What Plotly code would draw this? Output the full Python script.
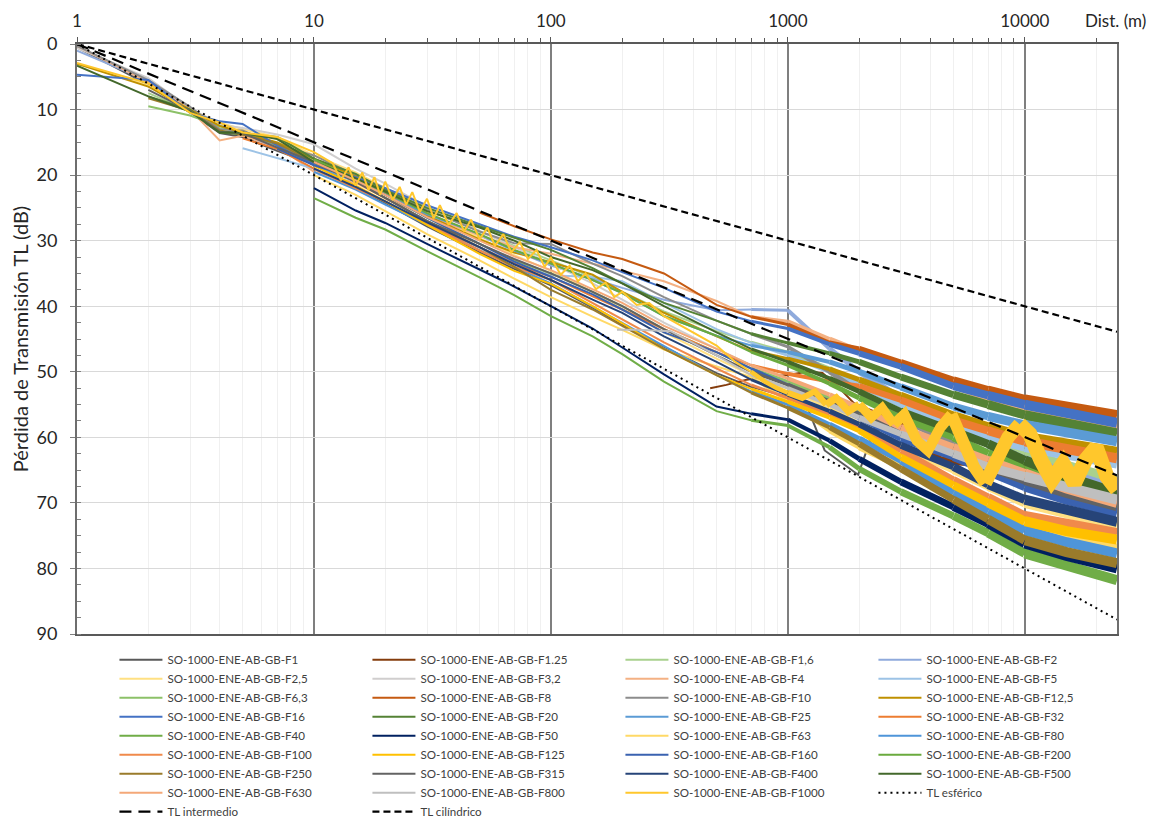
import plotly.graph_objects as go

N = None

# ---------------- data ----------------
grid_d = [1, 2, 3, 4, 5, 7, 10, 15, 20, 30, 50, 70, 100, 150, 200, 300, 500, 700,
          1000, 1500, 2000, 3000, 5000, 7000, 10000, 15000, 24500]

d_f1 = [1, 2, 3, 4, 5, 7, 10, 15, 20, 30, 50, 70, 100, 150, 200, 300, 500, 700, 1000,
        1100, 1220, 1430, 1980, 2290, 2600, 3000, 5000, 7000, 10000, 15000, 24500]
tl_f1 = [0.5, 6.2, 10.4, 13.6, 14.2, 16.3, 18.3, 21.8, 24.3, 27.8, 31.8, 34.3, 36.8, 40.2,
         42.8, 46.2, 50.2, 52.3, 53.8, 54.3, 55.8, 62.0, 65.7, 59.2, 57.8, 59.0, 62.5, 64.8,
         67.3, 69.2, 71.0]

d_f1_25 = [470, 550, 670, 800, 1000, 1200, 1400, 1650, 1900, 2300, 3000, 4400, 7000, 10000,
           15000, 23000, 24500]
tl_f1_25 = [52.5, 52.0, 51.2, 50.8, 50.5, 50.0, 50.2, 52.5, 54.8, 56.0, 58.0, 63.5, 64.0,
            65.0, 66.0, 67.0, 67.5]

tl_f1_6 = [N, 7.5, 10.2, 12.8, 13.6, 15.2, 17.8, 20.5, 22.3, 25.2, 28.6, 30.8, 33.0, 35.6,
           37.8, 40.8, 43.8, 45.5, 47.0, 49.5, 52.0, 55.0, 58.5, 60.5, 62.5, 64.3, 66.5]
tl_f2 = [1.0, 5.6, 9.9, 12.4, 13.9, 15.8, 18.0, 20.8, 22.8, 25.8, 29.3, 31.5, 33.8, 35.8,
         37.2, 39.0, 40.6, 40.5, 40.6, 46.5, 50.0, 54.0, 58.0, 61.0, 63.5, 65.5, 68.0]
tl_f2_5 = [3.0, 6.3, 10.0, 12.0, 13.0, 14.2, 17.0, 19.6, 22.0, 25.6, 29.6, 32.2, 34.6, 37.8,
           40.4, 44.0, 48.0, 50.5, 52.5, 55.5, 58.0, 61.5, 65.0, 67.5, 70.0, 71.5, 73.5]
tl_f3_2 = [0.6, 5.2, 9.8, 12.3, 12.8, 13.8, 15.3, 19.0, 21.3, 24.8, 28.5, 31.0, 33.5, 36.5,
           39.0, 42.5, 46.5, 49.0, 51.5, 54.0, 56.5, 59.5, 62.5, 64.5, 66.5, 67.5, 68.5]
tl_f4 = [0.3, 5.8, 10.0, 14.7, 14.0, 15.6, 19.5, 21.2, 23.5, 26.2, 29.2, 31.0, 32.0, 33.5,
         34.6, 36.2, 39.2, 41.6, 42.3, 45.0, 46.8, 48.8, 52.0, 54.0, 55.6, 57.0, 58.5]
tl_f5 = [N, N, N, N, 15.9, 17.4, 19.0, 21.8, 24.0, 27.4, 31.0, 33.4, 35.3, 35.5, 36.2, 39.5,
         43.5, 45.6, 47.5, 50.0, 52.0, 55.0, 58.5, 60.0, 61.5, 62.8, 64.0]
tl_f6_3 = [N, 9.5, 10.9, 12.5, 13.5, 15.5, 18.5, 21.0, 23.0, 26.5, 30.5, 33.0, 35.0, 37.8,
           40.0, 43.5, 47.0, 49.5, 51.5, 54.0, 56.0, 59.0, 62.5, 65.0, 67.0, 69.0, 71.0]
tl_f8 = [N, N, N, N, N, N, N, N, N, N, 25.7, 27.8, 29.8, 31.8, 32.8, 35.0, 39.8, 41.6, 42.8,
         45.6, 46.5, 48.6, 51.3, 52.8, 54.2, 55.4, 56.6]
tl_f10 = [0.3, 5.5, 9.6, 13.0, 13.2, 15.4, 17.0, 20.0, 22.0, 25.3, 28.6, 30.4, 30.5, 33.5,
          35.4, 38.6, 42.2, 44.2, 46.2, 50.0, 53.0, 57.0, 61.0, 63.5, 66.0, 67.8, 69.5]
tl_f12_5 = [3.0, 6.5, 10.0, 12.5, 13.5, 15.0, 17.5, 20.2, 22.6, 26.2, 29.8, 31.8, 33.3, 35.2,
            37.8, 41.0, 44.6, 46.8, 48.0, 49.6, 51.2, 53.6, 56.6, 58.3, 59.9, 61.0, 62.2]
tl_f16 = [4.7, 5.5, 10.5, 11.8, 12.2, 15.5, 18.3, 20.3, 22.0, 24.6, 27.5, 29.4, 31.0, 33.0,
          34.8, 37.2, 40.8, 42.3, 43.4, 45.8, 47.2, 49.2, 52.2, 53.6, 55.0, 56.3, 57.8]
tl_f20 = [N, 8.0, 10.0, 13.5, 13.8, 14.2, 17.5, 19.8, 22.3, 25.0, 27.8, 29.6, 31.4, 34.2,
          36.5, 39.5, 42.2, 44.2, 45.6, 47.2, 48.5, 50.8, 53.5, 55.0, 56.6, 57.9, 59.4]
tl_f25 = [N, N, N, N, N, N, 18.5, 21.0, 23.0, 26.0, 29.0, 31.5, 33.5, 36.0, 38.0, 41.5,
          44.5, 46.0, 47.0, 48.5, 50.0, 52.3, 55.3, 56.8, 58.1, 59.3, 60.6]
tl_f32 = [N, N, N, N, 14.4, 16.0, 19.0, 22.0, 24.0, 27.5, 31.0, 33.5, 35.5, 38.5, 40.5, 43.5,
          47.0, 49.0, 50.3, 51.5, 52.2, 54.3, 57.4, 59.0, 60.6, 61.8, 63.2]
tl_f40 = [N, N, N, N, N, N, 23.5, 26.5, 28.3, 31.6, 35.6, 38.3, 41.5, 44.6, 47.3, 51.5, 56.0,
          57.4, 58.2, 61.5, 64.8, 68.3, 72.0, 74.6, 77.7, 79.6, 81.8]
tl_f50 = [N, N, N, N, N, N, 22.0, 25.4, 27.3, 30.5, 34.4, 37.0, 40.0, 43.4, 46.3, 50.4, 55.3,
          56.4, 57.3, 60.5, 63.3, 66.8, 70.6, 73.2, 76.2, 78.1, 80.0]
tl_f63 = [N, N, N, N, N, N, 20.0, 23.0, 25.5, 29.0, 33.0, 35.8, 38.6, 41.6, 43.6, 46.6, 49.2,
          50.8, 54.5, 59.0, 61.5, 64.5, 68.2, 70.8, 73.2, 75.2, 77.0]
tl_f80 = [N, N, N, N, N, N, 19.5, 22.2, 24.5, 27.6, 31.5, 34.0, 36.5, 40.0, 42.5, 46.0, 50.5,
          53.0, 55.0, 58.0, 60.2, 63.6, 68.5, 71.3, 74.2, 76.0, 77.7]
tl_f100 = [N, N, N, N, N, N, 19.0, 22.0, 24.0, 27.5, 31.5, 34.0, 36.0, 39.5, 42.0, 45.5, 49.5,
           52.0, 54.0, 56.5, 58.5, 62.0, 66.5, 69.2, 72.0, 73.3, 74.6]
tl_f125 = [N, N, N, N, N, N, 18.6, 21.6, 24.0, 27.6, 32.0, 34.6, 36.6, 40.0, 42.6, 46.5, 50.5,
           52.6, 54.6, 57.0, 59.0, 63.0, 67.3, 70.0, 72.8, 74.3, 75.6]
tl_f160 = [N, N, N, N, N, 16.0, 18.5, 20.5, 23.0, 26.5, 30.5, 33.2, 35.5, 38.2, 40.5, 44.0,
           47.0, 49.5, 52.0, 54.8, 57.0, 60.2, 63.0, 65.2, 67.5, 69.5, 71.5]
tl_f200 = [N, N, N, N, N, N, 17.6, 20.6, 22.6, 25.8, 29.0, 31.4, 33.5, 36.0, 38.0, 41.5, 44.5,
           47.0, 49.0, 51.8, 54.0, 57.0, 60.0, 62.5, 64.5, 66.8, 69.0]
tl_f250 = [N, 8.3, 10.2, 13.2, 13.8, 15.2, 18.0, 21.0, 23.5, 27.0, 31.0, 34.0, 37.5, 40.5,
           43.0, 46.5, 50.5, 53.2, 55.5, 58.5, 61.0, 64.8, 69.5, 72.5, 75.7, 77.5, 79.2]
tl_f315 = [N, 7.0, 10.2, 13.4, 13.6, 15.8, 18.0, 21.0, 23.5, 27.0, 30.5, 32.8, 35.0, 37.8,
           40.0, 43.5, 47.5, 50.0, 52.0, 54.5, 56.5, 59.0, 62.0, 64.5, 66.5, 68.5, 70.5]
tl_f400 = [N, N, N, N, N, N, 19.0, 21.8, 24.0, 27.2, 31.0, 33.6, 36.0, 39.0, 41.0, 44.6, 48.5,
           51.2, 53.5, 56.0, 58.0, 61.2, 64.5, 67.2, 69.5, 71.2, 72.9]
tl_f500 = [3.3, 8.0, 10.3, 13.5, 13.5, 14.5, 18.0, 20.5, 22.5, 25.5, 28.0, 30.0, 32.5, 34.5,
           36.5, 40.0, 44.0, 46.5, 48.5, 51.0, 53.0, 56.0, 59.0, 61.0, 63.5, 66.0, 68.5]
tl_f630 = [N, N, N, N, N, N, 18.0, 20.8, 23.0, 26.4, 30.0, 32.4, 34.5, 37.4, 39.5, 43.0, 46.5,
           49.0, 51.0, 53.5, 55.5, 58.5, 61.5, 63.5, 65.5, 67.8, 70.0]

d_f800 = [190, 230, 320, 500, 700, 1000, 1500, 2000, 3000, 5000, 7000, 10000, 15000, 24500]
tl_f800 = [43.6, 43.6, 43.8, 47.5, 50.5, 52.5, 55.0, 57.0, 59.5, 62.5, 64.5, 66.0, 67.5, 69.5]

d_f1000 = [1, 2, 3, 4, 5, 7, 10, 12, 13, 14, 15, 16, 17, 18, 19, 20, 21.5, 23, 24.5, 26, 28,
           30, 32, 34, 37, 40, 43, 46, 50, 54, 58, 63, 68, 74, 80, 87, 94, 100, 110, 120, 130,
           140, 155, 170, 185, 200, 230, 260, 300, 400, 500, 600, 700, 800, 900, 1000, 1150,
           1300, 1450, 1600, 1800, 2000, 2250, 2500, 2800, 3100, 3500, 3900, 4400, 4900, 5500,
           6100, 6800, 7600, 8500, 9500, 10500, 11700, 13000, 14500, 16200, 18000, 20000,
           22200, 24500]
tl_f1000 = [2.9, 6.0, 10.5, 12.0, 13.5, 14.2, 16.5, 18.2, 20.8, 18.8, 21.6, 19.6, 22.3, 20.3,
            23.0, 21.0, 23.8, 21.8, 24.5, 22.6, 25.6, 23.6, 26.6, 24.6, 27.6, 25.8, 28.6, 26.8,
            29.8, 28.0, 30.8, 29.0, 31.8, 30.2, 32.8, 31.4, 34.0, 32.6, 35.2, 33.8, 36.2, 35.0,
            37.4, 36.4, 38.6, 37.8, 39.8, 39.5, 41.5, 44.0, 46.0, 48.5, 50.0, 51.5, 52.5, 53.2,
            54.0, 53.0, 55.0, 54.0, 56.0, 55.0, 57.0, 55.5, 58.0, 56.5, 60.5, 62.0, 58.5, 56.5,
            61.0, 64.5, 67.0, 63.5, 60.0, 58.0, 59.5, 63.5, 66.5, 64.0, 67.0, 63.5, 61.5, 66.0,
            68.0]

d_ref = [1, 24500]
tl_esferico = [0, 87.8]
tl_intermedio = [0, 65.8]
tl_cilindrico = [0, 43.9]

series = [
    ("SO-1000-ENE-AB-GB-F1", d_f1, tl_f1),
    ("SO-1000-ENE-AB-GB-F1.25", d_f1_25, tl_f1_25),
    ("SO-1000-ENE-AB-GB-F1,6", grid_d, tl_f1_6),
    ("SO-1000-ENE-AB-GB-F2", grid_d, tl_f2),
    ("SO-1000-ENE-AB-GB-F2,5", grid_d, tl_f2_5),
    ("SO-1000-ENE-AB-GB-F3,2", grid_d, tl_f3_2),
    ("SO-1000-ENE-AB-GB-F4", grid_d, tl_f4),
    ("SO-1000-ENE-AB-GB-F5", grid_d, tl_f5),
    ("SO-1000-ENE-AB-GB-F6,3", grid_d, tl_f6_3),
    ("SO-1000-ENE-AB-GB-F8", grid_d, tl_f8),
    ("SO-1000-ENE-AB-GB-F10", grid_d, tl_f10),
    ("SO-1000-ENE-AB-GB-F12,5", grid_d, tl_f12_5),
    ("SO-1000-ENE-AB-GB-F16", grid_d, tl_f16),
    ("SO-1000-ENE-AB-GB-F20", grid_d, tl_f20),
    ("SO-1000-ENE-AB-GB-F25", grid_d, tl_f25),
    ("SO-1000-ENE-AB-GB-F32", grid_d, tl_f32),
    ("SO-1000-ENE-AB-GB-F40", grid_d, tl_f40),
    ("SO-1000-ENE-AB-GB-F50", grid_d, tl_f50),
    ("SO-1000-ENE-AB-GB-F63", grid_d, tl_f63),
    ("SO-1000-ENE-AB-GB-F80", grid_d, tl_f80),
    ("SO-1000-ENE-AB-GB-F100", grid_d, tl_f100),
    ("SO-1000-ENE-AB-GB-F125", grid_d, tl_f125),
    ("SO-1000-ENE-AB-GB-F160", grid_d, tl_f160),
    ("SO-1000-ENE-AB-GB-F200", grid_d, tl_f200),
    ("SO-1000-ENE-AB-GB-F250", grid_d, tl_f250),
    ("SO-1000-ENE-AB-GB-F315", grid_d, tl_f315),
    ("SO-1000-ENE-AB-GB-F400", grid_d, tl_f400),
    ("SO-1000-ENE-AB-GB-F500", grid_d, tl_f500),
    ("SO-1000-ENE-AB-GB-F630", grid_d, tl_f630),
    ("SO-1000-ENE-AB-GB-F800", d_f800, tl_f800),
    ("SO-1000-ENE-AB-GB-F1000", d_f1000, tl_f1000),
]

# ---------------- styles ----------------
colors = ["#595959", "#843C0C", "#A9D18E", "#8FAADC", "#FFE082", "#D0CECE", "#F4B183",
          "#9DC3E6", "#8CC168", "#C55A11", "#8C8C8C", "#BF9000", "#4472C4", "#548235",
          "#5B9BD5", "#ED7D31", "#70AD47", "#002060", "#FFD966", "#4E95D9", "#F08A4B",
          "#FFC000", "#3A62B0", "#6AAA3E", "#9A7B2B", "#636363", "#264478", "#43682B",
          "#F4A878", "#BFBFBF", "#FFC72C"]
thin_until = {"SO-1000-ENE-AB-GB-F1": 2290, "SO-1000-ENE-AB-GB-F1.25": 2300}
width_scale = {"SO-1000-ENE-AB-GB-F1000": 1.5}
# line width grows with distance to imitate the dense far-field oscillation bands
TIERS = [(0, 700, 2.0), (700, 1000, 3.0), (1000, 1500, 4.0), (1500, 2000, 5.0),
         (2000, 3000, 6.0), (3000, 5000, 7.0), (5000, 7000, 8.0), (7000, 10000, 9.0),
         (10000, 1e9, 10.0)]
FONT = "Lato, 'Open Sans', sans-serif"

fig = go.Figure()
for (name, d, tl), col in zip(series, colors):
    pts = [(x, y) for x, y in zip(d, tl) if y is not None]
    t0 = thin_until.get(name, 0)
    ws = width_scale.get(name, 1.0)
    tiers = []
    for lo, hi, w in TIERS:
        if lo == 0:
            hi = max(hi, t0)
        else:
            if hi <= t0:
                continue
            lo = max(lo, t0)
            w = w * ws
        tiers.append((lo, hi, w))
    first = True
    for lo, hi, w in tiers:
        idx = [i for i, (x, _) in enumerate(pts) if lo <= x <= hi]
        if not idx:
            continue
        i0 = idx[0]
        if i0 > 0 and pts[i0][0] > lo:
            i0 -= 1
        seg = pts[i0: idx[-1] + 1]
        if len(seg) < 2:
            continue
        fig.add_trace(go.Scatter(
            x=[p[0] for p in seg], y=[p[1] for p in seg], mode="lines", name=name,
            line=dict(color=col, width=w), showlegend=first))
        first = False

fig.add_trace(go.Scatter(x=d_ref, y=tl_esferico, mode="lines", name="TL esférico",
                         line=dict(color="#000000", width=2, dash="2px,4px")))
fig.add_trace(go.Scatter(x=d_ref, y=tl_intermedio, mode="lines", name="TL intermedio",
                         line=dict(color="#000000", width=2.2, dash="12px,7px")))
fig.add_trace(go.Scatter(x=d_ref, y=tl_cilindrico, mode="lines", name="TL cilíndrico",
                         line=dict(color="#000000", width=2.2, dash="7px,4px")))

minor_x = [m * 10 ** k for k in range(0, 5) for m in range(2, 10) if m * 10 ** k <= 24500]

# the page body adds an 8px margin, so the figure is 8px smaller and shifted accordingly
fig.update_layout(
    width=1148, height=812,
    margin=dict(l=69, r=39, t=36, b=186, autoexpand=False),
    paper_bgcolor="white", plot_bgcolor="white",
    font=dict(family=FONT, color="#404040"),
    showlegend=True,
    legend=dict(orientation="h", x=0.036, xanchor="left", y=-0.019, yanchor="top",
                entrywidth=195, entrywidthmode="pixels", traceorder="normal", itemwidth=43,
                font=dict(family=FONT, size=11.6, color="#404040"),
                bgcolor="rgba(0,0,0,0)"),
    xaxis=dict(type="log", side="top", range=[0, 4.389], automargin=False,
               tickvals=[1, 10, 100, 1000, 10000], ticktext=["1", "10", "100", "1000", "10000"],
               tickfont=dict(size=17, color="#262626"),
               showgrid=True, gridcolor="#7F7F7F", gridwidth=1.6,
               ticks="outside", ticklen=5, tickcolor="#595959", ticklabelstandoff=3,
               showline=True, linecolor="#595959", linewidth=1.5, mirror=True,
               zeroline=False,
               minor=dict(tickvals=minor_x, showgrid=True, gridcolor="#F0F0F0", gridwidth=1,
                          ticks="outside", ticklen=4, tickcolor="#595959")),
    yaxis=dict(range=[90, 0], dtick=10, tick0=0, automargin=False,
               tickfont=dict(size=18, color="#262626"),
               showgrid=True, gridcolor="#D9D9D9", gridwidth=1,
               ticks="outside", ticklen=5, tickcolor="#7F7F7F", ticklabelstandoff=9,
               showline=True, linecolor="#6E6E6E", linewidth=2, mirror=True,
               zeroline=False,
               minor=dict(dtick=2.5, ticks="inside", ticklen=4, tickcolor="#7F7F7F",
                          showgrid=False),
               title=dict(text="Pérdida de Transmisión TL (dB)",
                          font=dict(size=20, color="#262626"), standoff=8)),
    annotations=[dict(text="Dist. (m)", xref="paper", yref="paper", x=0.999, y=1.04,
                      showarrow=False, xanchor="center", yanchor="middle",
                      font=dict(size=17, color="#262626"))],
)

fig.write_html("out.html")
